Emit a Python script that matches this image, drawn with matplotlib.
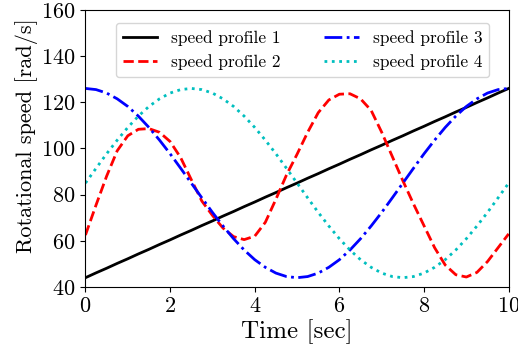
import numpy as np
import matplotlib
matplotlib.use('Agg')
from matplotlib import pyplot as plt

plt.rcParams['font.family'] = 'serif'
plt.rcParams['font.serif'] = ['cmr10']
plt.rcParams['mathtext.fontset'] = 'cm'
plt.rcParams['axes.formatter.use_mathtext'] = True

# 時刻 [sec]（0.25秒刻み）
t = np.arange(0, 10.01, 0.25)

# 速度プロファイル [rad/s]
profile1 = [44.0, 46.1, 48.1, 50.2, 52.2, 54.3, 56.3, 58.4, 60.4, 62.5, 64.5,
            66.6, 68.6, 70.7, 72.7, 74.8, 76.8, 78.9, 80.9, 83.0, 85.0,
            87.1, 89.1, 91.2, 93.2, 95.3, 97.3, 99.4, 101.4, 103.5, 105.5,
            107.6, 109.6, 111.7, 113.7, 115.8, 117.8, 119.9, 121.9, 124.0, 126.0]
profile2 = [62.5, 75.5, 88.0, 99.0, 105.5, 108.3, 108.6, 107.0, 103.0, 96.0, 86.5,
            77.2, 71.0, 65.5, 61.8, 60.5, 62.0, 68.0, 78.0, 88.5, 97.5,
            107.0, 115.5, 121.0, 123.5, 123.7, 121.5, 116.5, 107.0, 96.5, 86.0,
            76.0, 66.5, 57.0, 49.5, 45.3, 44.3, 46.3, 51.0, 57.0, 63.0]
profile3 = [126.0, 125.5, 124.0, 121.5, 118.2, 114.0, 109.1, 103.6, 97.7, 91.4, 85.0,
            78.6, 72.3, 66.4, 60.9, 56.0, 51.8, 48.5, 46.0, 44.5, 44.0,
            44.5, 46.0, 48.5, 51.8, 56.0, 60.9, 66.4, 72.3, 78.6, 85.0,
            91.4, 97.7, 103.6, 109.1, 114.0, 118.2, 121.5, 124.0, 125.5, 126.0]
profile4 = [85.0, 91.4, 97.7, 103.6, 109.1, 114.0, 118.2, 121.5, 124.0, 125.5, 126.0,
            125.5, 124.0, 121.5, 118.2, 114.0, 109.1, 103.6, 97.7, 91.4, 85.0,
            78.6, 72.3, 66.4, 60.9, 56.0, 51.8, 48.5, 46.0, 44.5, 44.0,
            44.5, 46.0, 48.5, 51.8, 56.0, 60.9, 66.4, 72.3, 78.6, 85.0]

labels = ['speed profile 1', 'speed profile 2', 'speed profile 3', 'speed profile 4']

fig = plt.figure(figsize=(5.18, 3.56), dpi=100)
ax = fig.add_axes([0.165, 0.194, 0.817, 0.778])

ax.plot(t, profile1, 'k-', lw=2, label=labels[0])
ax.plot(t, profile2, 'r--', lw=2, label=labels[1])
ax.plot(t, profile3, 'b-.', lw=2, label=labels[2])
ax.plot(t, profile4, 'c:', lw=2, label=labels[3])

ax.set_xlim(0, 10)
ax.set_ylim(40, 160)
ax.set_xticks([0, 2, 4, 6, 8, 10])
ax.set_yticks([40, 60, 80, 100, 120, 140, 160])
ax.tick_params(labelsize=16)
ax.set_xlabel('Time [sec]', fontsize=18, labelpad=2)
ax.set_ylabel('Rotational speed [rad/s]', fontsize=16)
ax.yaxis.set_label_coords(-0.112, 0.545)
ax.legend(loc='upper center', bbox_to_anchor=(0.513, 1.0), ncol=2,
          fontsize=12.5, columnspacing=2.5, borderaxespad=0.75)

fig.savefig('out.png', dpi=100)
